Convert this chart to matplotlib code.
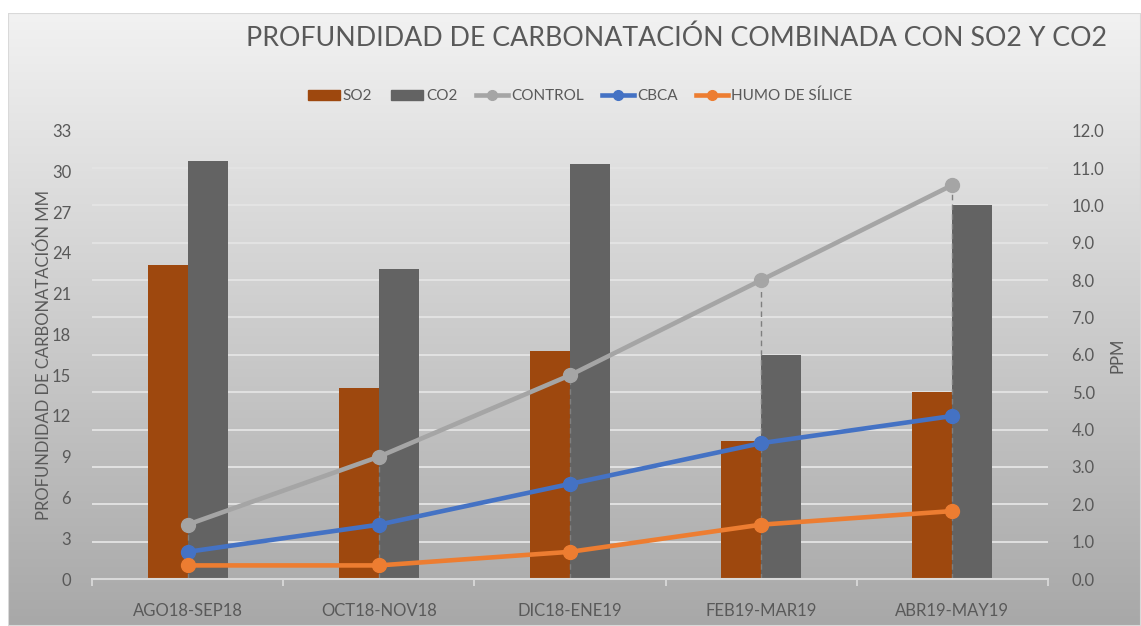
import numpy as np
import matplotlib.pyplot as plt
from matplotlib.colors import LinearSegmentedColormap
from matplotlib.patches import Patch, Rectangle
from matplotlib.lines import Line2D

plt.rcParams['font.family'] = ['Lato', 'DejaVu Sans']

periodos = ['AGO18-SEP18', 'OCT18-NOV18', 'DIC18-ENE19', 'FEB19-MAR19', 'ABR19-MAY19']
# concentraciones (eje derecho, PPM)
so2 = [8.4, 5.1, 6.1, 3.7, 5.0]
co2 = [11.2, 8.3, 11.1, 6.0, 10.0]
# profundidad de carbonatacion (eje izquierdo, mm)
control = [4, 9, 15, 22, 29]
cbca = [2, 4, 7, 10, 12]
humo_silice = [1, 1, 2, 4, 5]

TXT = '#595959'
W, H = 1141, 626

fig = plt.figure(figsize=(W / 100, H / 100), dpi=100)
fig.patch.set_facecolor('white')

# fondo degradado del grafico
bg = fig.add_axes([8 / W, 0, 1 - 8 / W, 1 - 13 / H], zorder=-10)
grad = LinearSegmentedColormap.from_list('fondo', ['#f2f2f2', '#a8a8a8'])
bg.imshow(np.linspace(0, 1, 256).reshape(-1, 1), aspect='auto', cmap=grad,
          extent=[0, 1, 0, 1])
bg.add_patch(Rectangle((0, 0), 1, 1, transform=bg.transAxes, fill=False,
                       edgecolor='#d9d9d9', lw=1.5))
bg.axis('off')

rect = [92 / W, 47 / H, (1048 - 92) / W, (579 - 130.7) / H]
ax = fig.add_axes(rect)
ax2 = ax.twinx()
ax.set_zorder(ax2.get_zorder() + 1)
ax.patch.set_visible(False)
ax2.patch.set_visible(False)

x = np.arange(len(periodos))
w = 0.209

ax2.bar(x - w / 2, so2, w, color='#9E480E', zorder=2)
ax2.bar(x + w / 2, co2, w, color='#636363', zorder=2)
ax2.set_ylim(0, 12)
ax2.set_yticks(np.arange(0, 13, 1))
ax2.set_yticklabels([f'{v:.1f}' for v in np.arange(0, 13, 1)])
ax2.yaxis.grid(True, color='#e4e4e4', lw=1.3, zorder=0)
ax2.set_axisbelow(True)
ax2.set_ylabel('PPM', color=TXT, fontsize=12, labelpad=4)

# lineas de proyeccion
for i in range(len(x)):
    top = max(control[i], cbca[i], humo_silice[i])
    ax.plot([x[i], x[i]], [0, top], color='#7f7f7f', lw=1, ls=(0, (4, 3)), zorder=1)

ax.plot(x, control, color='#A5A5A5', lw=3.3, marker='o', ms=10, zorder=3)
ax.plot(x, cbca, color='#4472C4', lw=3.3, marker='o', ms=10, zorder=3)
ax.plot(x, humo_silice, color='#ED7D31', lw=3.3, marker='o', ms=10, zorder=3)
ax.set_ylim(0, 33)
ax.set_yticks(np.arange(0, 34, 3))
ax.set_xlim(-0.5, len(x) - 0.5)
ax.set_xticks(x)
ax.set_xticklabels(periodos)
ax.set_xticks(np.arange(-0.5, len(x), 1), minor=True)
ax.set_ylabel('PROFUNDIDAD DE CARBONATACIÓN MM', color=TXT, fontsize=12, labelpad=0)

for a in (ax, ax2):
    for s in a.spines.values():
        s.set_visible(False)
ax.spines['bottom'].set_visible(True)
ax.spines['bottom'].set_color('#d9d9d9')
ax.spines['bottom'].set_linewidth(1.5)

ax.tick_params(axis='x', which='major', length=0, pad=17, labelsize=12, labelcolor=TXT)
ax.tick_params(axis='x', which='minor', length=5, color='#d9d9d9', width=1.3)
ax.tick_params(axis='y', length=0, pad=15, labelsize=12, labelcolor=TXT)
ax2.tick_params(axis='y', length=0, pad=17, labelsize=12, labelcolor=TXT)

fig.text(677 / W, 1 - 38 / H, 'PROFUNDIDAD DE CARBONATACIÓN COMBINADA CON SO2 Y CO2',
         ha='center', va='center', fontsize=19.3, color=TXT)

handles = [
    Patch(color='#9E480E'),
    Patch(color='#636363'),
    Line2D([], [], color='#A5A5A5', lw=3.3, marker='o', ms=7),
    Line2D([], [], color='#4472C4', lw=3.3, marker='o', ms=7),
    Line2D([], [], color='#ED7D31', lw=3.3, marker='o', ms=7),
]
labels = ['SO2', 'CO2', 'CONTROL', 'CBCA', 'HUMO DE SÍLICE']
fig.legend(handles, labels, loc='center', bbox_to_anchor=(580 / W, 1 - 96 / H),
           ncol=5, frameon=False, fontsize=11, labelcolor=TXT, handlelength=2.1,
           handletextpad=0.2, columnspacing=1.2)

fig.savefig('out.png', dpi=100)
